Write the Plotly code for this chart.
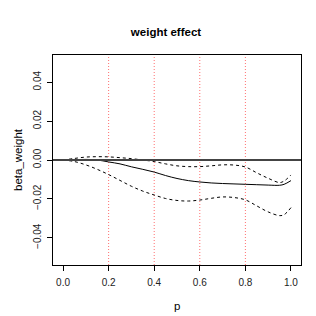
import plotly.graph_objects as go

p = [0, 0.05, 0.1, 0.15, 0.2, 0.25, 0.3, 0.35, 0.4, 0.45, 0.5, 0.55, 0.6,
     0.65, 0.7, 0.75, 0.8, 0.85, 0.9, 0.95, 0.97, 1.0]
beta = [0, 0.0002, 0.0003, 0.0, -0.001, -0.002, -0.0035, -0.0048, -0.0062,
        -0.0080, -0.0095, -0.0106, -0.0113, -0.0118, -0.0121, -0.0123,
        -0.0125, -0.0127, -0.0129, -0.0130, -0.0125, -0.0106]
upper = [0, 0.0008, 0.0015, 0.0017, 0.0016, 0.0012, 0.0007, 0.0, -0.0008,
         -0.0020, -0.0030, -0.0034, -0.0034, -0.0030, -0.0025, -0.0026,
         -0.0036, -0.0066, -0.0094, -0.0116, -0.0108, -0.0077]
lower = [0, -0.0008, -0.0025, -0.0048, -0.0075, -0.0105, -0.0135, -0.0160,
         -0.0180, -0.0198, -0.0208, -0.0211, -0.0206, -0.0197, -0.0190,
         -0.0193, -0.0205, -0.0236, -0.0267, -0.0286, -0.0281, -0.0245]
vlines = [0.2, 0.4, 0.6, 0.8]
xticks = [0.0, 0.2, 0.4, 0.6, 0.8, 1.0]
xticklabels = ["0.0", "0.2", "0.4", "0.6", "0.8", "1.0"]
yticks = [-0.04, -0.02, 0.0, 0.02, 0.04]
yticklabels = ["\u22120.04", "\u22120.02", "0.00", "0.02", "0.04"]

FONT = "Liberation Sans, Arial, sans-serif"
W, H = 316, 316
L, R, T, B = 45, 23, 47, 59
PW, PH = W - L - R, H - T - B

fig = go.Figure()
for v in vlines:
    fig.add_trace(go.Scatter(x=[v, v], y=[-0.054, 0.054], mode="lines",
                             line=dict(color="#ff7070", width=1, dash="1px,2px")))
fig.add_trace(go.Scatter(x=p, y=upper, mode="lines",
                         line=dict(color="black", width=1, dash="3px,3px", shape="spline")))
fig.add_trace(go.Scatter(x=p, y=lower, mode="lines",
                         line=dict(color="black", width=1, dash="3px,3px", shape="spline")))
fig.add_trace(go.Scatter(x=p, y=beta, mode="lines",
                         line=dict(color="black", width=1, shape="spline")))
fig.add_hline(y=0, line=dict(color="#444444", width=1.8))

axis_common = dict(showline=True, linecolor="black", linewidth=1, mirror=True,
                   ticks="outside", ticklen=5, tickcolor="black", showgrid=False,
                   zeroline=False, automargin=False,
                   tickfont=dict(size=10, color="#222222", family=FONT))

fig.add_annotation(text="p", xref="paper", yref="paper", x=0.5,
                   y=-(298 - (T + PH)) / PH, xanchor="center", yanchor="middle",
                   showarrow=False, font=dict(size=11.5, color="black", family=FONT))
fig.add_annotation(text="beta_weight", xref="paper", yref="paper",
                   x=(10 - L) / PW, y=0.5, xanchor="center", yanchor="middle",
                   textangle=-90, showarrow=False,
                   font=dict(size=11.5, color="black", family=FONT))

fig.update_layout(
    width=W, height=H,
    margin=dict(l=L, r=R, t=T, b=B, autoexpand=False),
    plot_bgcolor="white", paper_bgcolor="white",
    showlegend=False,
    font=dict(family=FONT, color="black"),
    title=dict(text="<b>weight effect</b>", x=0.5, xanchor="center",
               yref="container", y=1 - 24 / H, yanchor="middle",
               font=dict(size=11.5, color="black", family=FONT)),
    xaxis=dict(range=[-0.044, 1.044], tickvals=xticks, ticktext=xticklabels,
               ticklabelstandoff=3, **axis_common),
    yaxis=dict(range=[-0.054, 0.054], tickvals=yticks, ticktext=yticklabels,
               tickangle=-90, ticklabelstandoff=2, **axis_common),
)

fig.write_html("out.html")
